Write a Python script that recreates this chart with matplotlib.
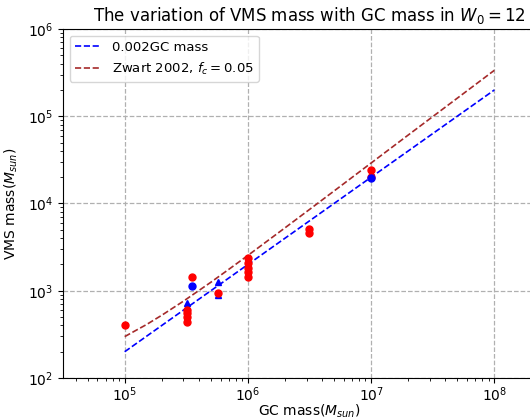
import matplotlib
matplotlib.use("Agg")
import matplotlib.pyplot as plt

# Lines
line_x = [1e5, 1.25e5, 1.5e5, 2e5, 3e5, 5e5, 7e5, 1e6, 2e6, 3e6, 5e6, 1e7, 2e7, 5e7, 1e8]
line_002 = [200, 250, 300, 400, 600, 1000, 1400, 2000, 4000, 6000, 10000, 20000, 40000, 100000, 200000]
line_zwart = [298, 355, 409, 524, 760, 1250, 1760, 2540, 5260, 8080, 13900, 29100, 60900, 161000, 336000]

# Red circles
red_x = [1e5, 3.2e5, 3.2e5, 3.2e5, 3.2e5, 3.5e5, 5.7e5,
         1e6, 1e6, 1e6, 1e6, 1e6, 3.16e6, 3.16e6, 1e7, 1e7]
red_y = [410, 600, 550, 500, 443, 1440, 950,
         2350, 2080, 1840, 1620, 1420, 5130, 4620, 24000, 20300]

# Blue circles
bcirc_x = [3.5e5, 1e7]
bcirc_y = [1120, 19500]

# Blue triangles
btri_x = [3.2e5, 3.2e5, 5.7e5, 5.7e5, 1e6]
btri_y = [716, 656, 1265, 889, 2100]

fig = plt.figure(figsize=(5.3, 4.2), dpi=100)
ax = fig.add_axes([0.119, 0.1, 0.93, 0.831])

ax.plot(line_x, line_002, '--', color='blue', lw=1.2, label='0.002GC mass')
ax.plot(line_x, line_zwart, '--', color='brown', lw=1.2, label=r'Zwart 2002, $f_c=0.05$')

ax.plot(btri_x, btri_y, '^', color='blue', ms=5, ls='none')
ax.plot(red_x, red_y, 'o', color='red', ms=5, ls='none')
ax.plot(bcirc_x, bcirc_y, 'o', color='blue', ms=5, ls='none')

ax.set_xscale('log')
ax.set_yscale('log')
ax.set_xlim(10**4.5, 10**8.5)
ax.set_ylim(1e2, 1e6)
ax.grid(True, which='major', ls='--', color='#b0b0b0', lw=0.9)

ax.set_title(r'The variation of VMS mass with GC mass in $W_0 = 12$', fontsize=12)
ax.set_xlabel(r'GC mass($M_{sun}$)', fontsize=10, labelpad=-1)
ax.set_ylabel(r'VMS mass($M_{sun}$)', fontsize=10, labelpad=6)
ax.tick_params(labelsize=10)
ax.tick_params(axis='x', pad=2)
ax.legend(loc='upper left', fontsize=9.5)

fig.savefig('out.png', dpi=100)
